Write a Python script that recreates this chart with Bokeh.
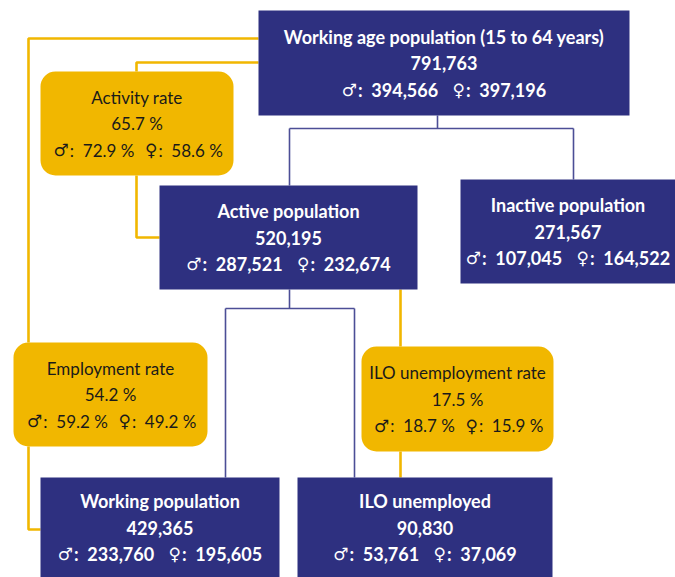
from bokeh.plotting import figure
from bokeh.models import Range1d
from bokeh.core.properties import value
from bokeh.embed import file_html
from bokeh.resources import INLINE

# ---------------- data ----------------
pop_labels = ["Working age population (15 to 64 years)", "Active population",
              "Inactive population", "Working population", "ILO unemployed"]
pop_total = [791763, 520195, 271567, 429365, 90830]
pop_male = [394566, 287521, 107045, 233760, 53761]
pop_female = [397196, 232674, 164522, 195605, 37069]

rate_labels = ["Activity rate", "Employment rate", "ILO unemployment rate"]
rate_total = [65.7, 54.2, 17.5]
rate_male = [72.9, 59.2, 18.7]
rate_female = [58.6, 49.2, 15.9]

# ---------------- layout (pixel space) ----------------
pop_left = [258, 159, 460, 40, 297]
pop_right = [629, 417, 675, 279, 552]
pop_top = [10, 185, 179, 477, 477]
pop_bottom = [115, 289, 283, 577, 577]

rate_left = [40, 13, 361]
rate_right = [233, 207, 553]
rate_top = [71, 342, 346]
rate_bottom = [175, 446, 451]

NAVY = "#2e3080"
GOLD = "#f1b700"
LINK = "#4c4e96"
FONT = "Lato"
SYM_FONT = "DejaVu Sans"
LINE_GAP = 26.5
NB = "\u00a0"

W, H = 675, 577
p = figure(width=W, height=H, output_backend="svg", toolbar_location=None,
           x_range=Range1d(0, W), y_range=Range1d(H, 0),
           x_axis_location=None, y_axis_location=None, min_border=0,
           outline_line_color=None, background_fill_color="white",
           border_fill_color="white")
p.grid.visible = False


def cx(l, r):
    return (l + r) / 2


# ---------------- connectors ----------------
wap_x = 437
act_x = 289
inact_x = 573
y1 = 128
blue_xs = [[wap_x, wap_x], [act_x, inact_x], [act_x, act_x], [inact_x, inact_x]]
blue_ys = [[pop_bottom[0], y1], [y1, y1], [y1, pop_top[1]], [y1, pop_top[2]]]
y2 = 308
work_x = 225
unemp_x = 354
blue_xs += [[act_x, act_x], [work_x, unemp_x], [work_x, work_x], [unemp_x, unemp_x]]
blue_ys += [[pop_bottom[1], y2], [y2, y2], [y2, pop_top[3]], [y2, pop_top[4]]]
p.multi_line(blue_xs, blue_ys, line_color=LINK, line_width=1.6)

outer_x = 28
inner_x = 136
ilo_x = 400
gold_xs = [
    [pop_left[0], outer_x, outer_x],
    [outer_x, outer_x, pop_left[3]],
    [pop_left[0], inner_x, inner_x],
    [inner_x, inner_x, pop_left[1]],
    [ilo_x, ilo_x],
    [ilo_x, ilo_x],
]
gold_ys = [
    [38, 38, rate_top[1]],
    [rate_bottom[1], 529, 529],
    [62, 62, rate_top[0]],
    [rate_bottom[0], 237, 237],
    [pop_bottom[1], rate_top[2]],
    [rate_bottom[2], pop_top[4]],
]
p.multi_line(gold_xs, gold_ys, line_color=GOLD, line_width=2.6)

# ---------------- boxes ----------------
p.quad(left=pop_left, right=pop_right, top=pop_top, bottom=pop_bottom,
       fill_color=NAVY, line_color=None)
p.quad(left=rate_left, right=rate_right, top=rate_top, bottom=rate_bottom,
       fill_color=GOLD, line_color=None, border_radius=15)

# ---------------- texts ----------------
# approximate Lato advance widths (em)
BOLD_W = {",": 0.22, ".": 0.22, ":": 0.25, " ": 0.193, NB: 0.193, "%": 0.80}
REG_W = {",": 0.20, ".": 0.20, ":": 0.23, " ": 0.193, NB: 0.193, "%": 0.76}


def text_w(s, size, bold):
    tbl = BOLD_W if bold else REG_W
    return sum(tbl.get(c, 0.58) for c in s) * size


def fmt_int(v):
    return f"{v:,}"


def fmt_pct(v):
    return f"{v:.1f}{NB}%"


def add_box_texts(lefts, rights, tops, bottoms, labels, totals, males, females,
                  fmt, color, bold, size, sym_size, sym_bold, gap):
    style = "bold" if bold else "normal"
    mx, my, mt = [], [], []      # main lines
    sx, sy, st = [], [], []      # symbols (right aligned)
    vx, vy, vt = [], [], []      # ': value' parts (left aligned)
    symw = 0.70 * sym_size
    for i, lab in enumerate(labels):
        x = cx(lefts[i], rights[i])
        yc = (tops[i] + bottoms[i]) / 2
        mx += [x, x]
        my += [yc - LINE_GAP, yc]
        mt += [lab, fmt(totals[i])]
        ms = ":" + NB + NB + fmt(males[i])
        fs = ":" + NB + NB + fmt(females[i])
        wm = text_w(ms, size, bold)
        wf = text_w(fs, size, bold)
        total = 2 * symw + wm + wf + gap
        start = x - total / 2
        xm = start + symw
        xf = xm + wm + gap + symw
        yb = yc + LINE_GAP
        sx += [xm, xf]
        sy += [yb, yb]
        st += ["\u2642", "\u2640"]
        vx += [xm + 1, xf + 1]
        vy += [yb, yb]
        vt += [ms, fs]
    p.text(x=mx, y=my, text=mt, text_color=color, text_font=value(FONT),
           text_font_style=style, text_font_size=f"{size}px",
           text_align="center", text_baseline="middle")
    p.text(x=vx, y=vy, text=vt, text_color=color, text_font=value(FONT),
           text_font_style=style, text_font_size=f"{size}px",
           text_align="left", text_baseline="middle")
    p.text(x=sx, y=sy, text=st, text_color=color, text_font=value(SYM_FONT),
           text_font_style="bold" if sym_bold else "normal",
           text_font_size=f"{sym_size}px",
           text_align="right", text_baseline="middle")


add_box_texts(pop_left, pop_right, pop_top, pop_bottom, pop_labels, pop_total,
              pop_male, pop_female, fmt_int, "white", True, 18, 17, False, 18)
add_box_texts(rate_left, rate_right, rate_top, rate_bottom, rate_labels, rate_total,
              rate_male, rate_female, fmt_pct, "#1a1a1a", False, 17, 17, False, 17)

open("out.html", "w").write(file_html(p, INLINE))
